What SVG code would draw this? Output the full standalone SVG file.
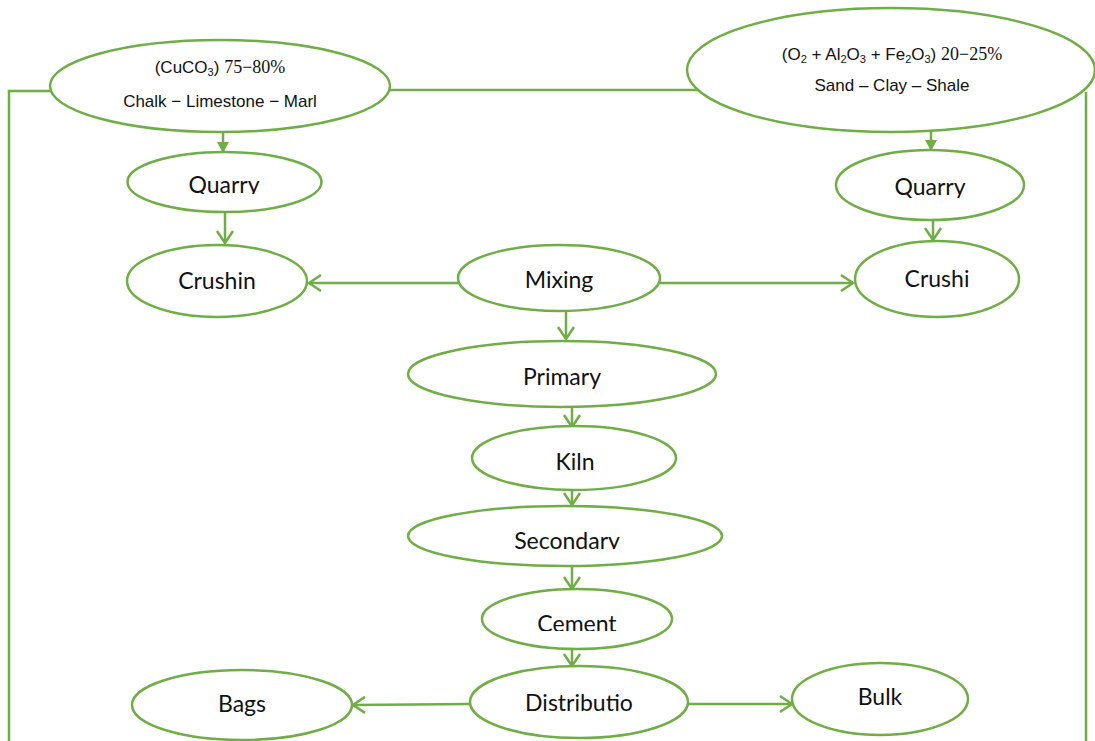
<svg xmlns="http://www.w3.org/2000/svg" width="1095" height="741" viewBox="0 0 1095 741">
<style>
.n{fill:#fff;stroke:#70ad47;stroke-width:2.5}
.c{fill:none;stroke:#70ad47;stroke-width:2.5}
.t{font-family:Lato,"Open Sans",sans-serif;font-size:23px;fill:#111;text-anchor:middle}
.a{font-family:"Liberation Sans",Arial,sans-serif;font-size:17px;fill:#111;text-anchor:middle}
.tm{font-family:"Liberation Serif","Times New Roman",serif;font-size:18px}
.sb{font-size:11px}
</style>
<defs>
<marker id="open" markerUnits="userSpaceOnUse" markerWidth="16" markerHeight="20" viewBox="0 0 16 20" refX="13" refY="10" orient="auto">
<path d="M1,2 L13,10 L1,18" fill="none" stroke="#70ad47" stroke-width="2.5"/>
</marker>
<marker id="fill" markerUnits="userSpaceOnUse" markerWidth="12" markerHeight="12" viewBox="0 0 12 12" refX="10" refY="6" orient="auto">
<path d="M0,0 L11,6 L0,12 Z" fill="#70ad47"/>
</marker>
<clipPath id="cq1"><rect x="100" y="150" width="250" height="44"/></clipPath>
<clipPath id="cq2"><rect x="800" y="150" width="250" height="48"/></clipPath>
<clipPath id="cs"><rect x="400" y="505" width="330" height="44"/></clipPath>
<clipPath id="cc"><rect x="480" y="590" width="200" height="41"/></clipPath>
</defs>
<g id="connectors">
<path class="c" d="M52,91 L9,91 L9,741"/>
<path class="c" d="M390,90 L699,90"/>
<path class="c" d="M1086,92 L1086,741"/>
<path class="c" d="M223,130 L223,152" marker-end="url(#fill)"/>
<path class="c" d="M931,131 L931,150" marker-end="url(#fill)"/>
<path class="c" d="M225,212 L225,243" marker-end="url(#open)"/>
<path class="c" d="M933,220 L933,240" marker-end="url(#open)"/>
<path class="c" d="M458,283 L309,283" marker-end="url(#open)"/>
<path class="c" d="M660,283 L853,283" marker-end="url(#open)"/>
<path class="c" d="M566,310 L566,339" marker-end="url(#open)"/>
<path class="c" d="M572,407 L572,427" marker-end="url(#open)"/>
<path class="c" d="M572,490 L572,505" marker-end="url(#open)"/>
<path class="c" d="M572,566 L572,589" marker-end="url(#open)"/>
<path class="c" d="M572,649 L572,666" marker-end="url(#open)"/>
<path class="c" d="M470,704 L353,705" marker-end="url(#open)"/>
<path class="c" d="M688,704 L792,704" marker-end="url(#open)"/>
</g>
<g id="chalk">
<ellipse class="n" cx="220" cy="86" rx="170" ry="46"/>
<text class="a" x="220" y="73">(CuCO<tspan class="sb" dy="3">3</tspan><tspan dy="-3">) </tspan><tspan class="tm">75−80%</tspan></text>
<text class="a" x="220" y="107">Chalk − Limestone − Marl</text>
</g>
<g id="sand">
<ellipse class="n" cx="891" cy="70" rx="204" ry="62"/>
<text class="a" x="892" y="60">(O<tspan class="sb" dy="3">2</tspan><tspan dy="-3"> + Al</tspan><tspan class="sb" dy="3">2</tspan><tspan dy="-3">O</tspan><tspan class="sb" dy="3">3</tspan><tspan dy="-3"> + Fe</tspan><tspan class="sb" dy="3">2</tspan><tspan dy="-3">O</tspan><tspan class="sb" dy="3">3</tspan><tspan dy="-3">) </tspan><tspan class="tm">20−25%</tspan></text>
<text class="a" x="892" y="91">Sand – Clay – Shale</text>
</g>
<g id="quarry1">
<ellipse class="n" cx="224.5" cy="182" rx="97" ry="30"/>
<text class="t" x="224" y="193" clip-path="url(#cq1)">Quarry</text>
</g>
<g id="quarry2">
<ellipse class="n" cx="930" cy="185" rx="94" ry="35"/>
<text class="t" x="930" y="195" clip-path="url(#cq2)">Quarry</text>
</g>
<g id="crushin">
<ellipse class="n" cx="217" cy="281" rx="90" ry="36"/>
<text class="t" x="217" y="289">Crushin</text>
</g>
<g id="mixing">
<ellipse class="n" cx="559" cy="278" rx="101" ry="33"/>
<text class="t" x="559" y="288">Mixing</text>
</g>
<g id="crushi">
<ellipse class="n" cx="937" cy="279" rx="82" ry="38"/>
<text class="t" x="937" y="287">Crushi</text>
</g>
<g id="primary">
<ellipse class="n" cx="562" cy="374" rx="154" ry="33"/>
<text class="t" x="562" y="385">Primary</text>
</g>
<g id="kiln">
<ellipse class="n" cx="574" cy="458" rx="102" ry="32"/>
<text class="t" x="575" y="470">Kiln</text>
</g>
<g id="secondary">
<ellipse class="n" cx="565" cy="536" rx="157" ry="30"/>
<text class="t" x="567" y="549" clip-path="url(#cs)">Secondary</text>
</g>
<g id="cement">
<ellipse class="n" cx="577" cy="619" rx="95" ry="30"/>
<text class="t" x="577" y="632" clip-path="url(#cc)">Cement</text>
</g>
<g id="distribution">
<ellipse class="n" cx="579" cy="702" rx="109" ry="36"/>
<text class="t" x="579" y="711">Distributio</text>
</g>
<g id="bags">
<ellipse class="n" cx="242" cy="705" rx="110" ry="35"/>
<text class="t" x="242" y="712">Bags</text>
</g>
<g id="bulk">
<ellipse class="n" cx="880" cy="699" rx="88" ry="36"/>
<text class="t" x="880" y="705">Bulk</text>
</g>
</svg>
